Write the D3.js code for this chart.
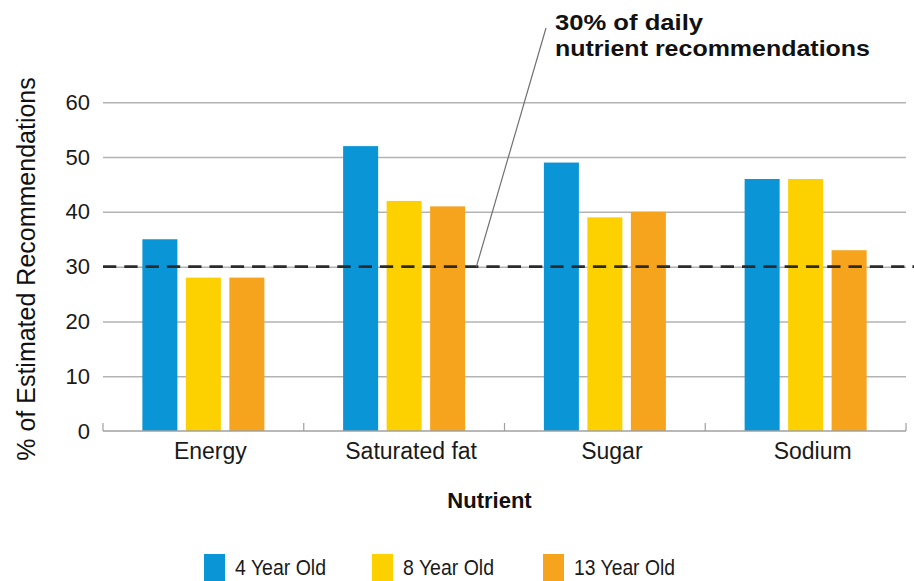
<!DOCTYPE html>
<html>
<head>
<meta charset="utf-8">
<script src="https://cdn.jsdelivr.net/npm/d3@7"></script>
<style>
  html, body { margin: 0; padding: 0; background: #fff; }
  svg { display: block; font-family: "Liberation Sans", Arial, Helvetica, sans-serif; }
</style>
</head>
<body>
<script>
'use strict';

(function() {

  // chart data
  const nutrients = ["Energy", "Saturated fat", "Sugar", "Sodium"];
  const series = ["4 Year Old", "8 Year Old", "13 Year Old"];
  const age4 = [35, 52, 49, 46];
  const age8 = [28, 42, 39, 46];
  const age13 = [28, 41, 40, 33];
  const yTicks = [0, 10, 20, 30, 40, 50, 60];
  const refValue = 30;
  const refLabel = ["30% of daily", "nutrient recommendations"];

  const colors = {
    "4 Year Old": "#0995d6",
    "8 Year Old": "#fdd100",
    "13 Year Old": "#f6a31e"
  };

  const width = 914, height = 581;

  let svgContainer = d3.select('body')
    .append('svg')
    .attr('width', width)
    .attr('height', height);

  // scales
  let x0 = d3.scaleBand()
    .domain(nutrients)
    .range([103, 906])
    .padding(0);

  let x1 = d3.scaleBand()
    .domain(series)
    .range([-61, 61])
    .paddingInner(0.195)
    .paddingOuter(0);

  let yScale = d3.scaleLinear()
    .domain([0, 60])
    .range([431, 102.3]);

  // gridlines + y tick labels
  let yAxis = d3.axisLeft(yScale)
    .tickValues(yTicks)
    .tickSize(-(906 - 103))
    .tickPadding(13);

  let gy = svgContainer.append('g')
    .attr('transform', 'translate(103, 0)')
    .call(yAxis);
  gy.select('.domain').remove();
  gy.selectAll('.tick line')
    .attr('stroke', '#b3b3b3')
    .attr('stroke-width', 1.5)
    .attr('opacity', (d) => d === 0 ? 0 : 1);
  gy.selectAll('.tick text')
    .attr('font-size', '22px')
    .attr('fill', '#1a1a1a')
    .attr('font-family', null);

  // bars
  let rows = nutrients.map((n, i) => ({
    nutrient: n,
    values: [
      {key: series[0], value: age4[i]},
      {key: series[1], value: age8[i]},
      {key: series[2], value: age13[i]}
    ]
  }));

  svgContainer.append('g')
    .selectAll('g')
    .data(rows)
    .enter()
    .append('g')
      .attr('transform', (d) => 'translate(' + (x0(d.nutrient) + x0.bandwidth() / 2) + ',0)')
    .selectAll('rect')
    .data((d) => d.values)
    .enter()
    .append('rect')
      .attr('x', (d) => x1(d.key))
      .attr('y', (d) => yScale(d.value))
      .attr('width', x1.bandwidth())
      .attr('height', (d) => yScale(0) - yScale(d.value))
      .attr('fill', (d) => colors[d.key]);

  // x axis baseline with boundary ticks
  svgContainer.append('line')
    .attr('x1', 103).attr('x2', 906)
    .attr('y1', yScale(0)).attr('y2', yScale(0))
    .attr('stroke', '#a0a0a0')
    .attr('stroke-width', 1.5);

  let bounds = nutrients.map((n) => x0(n)).concat([x0.range()[1]]);
  svgContainer.selectAll('.xtick')
    .data(bounds)
    .enter()
    .append('line')
      .attr('x1', (d) => d).attr('x2', (d) => d)
      .attr('y1', yScale(0) - 8).attr('y2', yScale(0))
      .attr('stroke', '#a0a0a0')
      .attr('stroke-width', 1.2);

  // category labels
  svgContainer.selectAll('.xlabel')
    .data(nutrients)
    .enter()
    .append('text')
      .attr('x', (d) => x0(d) + x0.bandwidth() / 2 + 7)
      .attr('y', 459)
      .attr('text-anchor', 'middle')
      .attr('font-size', '23px')
      .attr('fill', '#1a1a1a')
      .text((d) => d);

  // reference dashed line (over bars)
  svgContainer.append('line')
    .attr('x1', 103).attr('x2', 914)
    .attr('y1', yScale(refValue)).attr('y2', yScale(refValue))
    .attr('stroke', '#2b2b2b')
    .attr('stroke-width', 2.6)
    .attr('stroke-dasharray', '13.3 8');

  // annotation leader + text
  svgContainer.append('line')
    .attr('x1', x0("Saturated fat") + x0.bandwidth() * 0.86)
    .attr('y1', yScale(refValue))
    .attr('x2', 546)
    .attr('y2', 28)
    .attr('stroke', '#707070')
    .attr('stroke-width', 1.2);

  svgContainer.append('text')
    .attr('x', 555)
    .attr('y', 30)
    .attr('font-size', '22px')
    .attr('font-weight', 'bold')
    .attr('fill', '#111')
    .selectAll('tspan')
    .data(refLabel)
    .enter()
    .append('tspan')
      .attr('x', 555)
      .attr('dy', (d, i) => i === 0 ? 0 : 26)
      .attr('textLength', (d, i) => i === 0 ? 148 : 315)
      .attr('lengthAdjust', 'spacingAndGlyphs')
      .text((d) => d);

  // axis titles
  svgContainer.append('text')
    .attr('x', 489.5)
    .attr('y', 508)
    .attr('text-anchor', 'middle')
    .attr('font-size', '22px')
    .attr('font-weight', 'bold')
    .attr('fill', '#111')
    .text('Nutrient');

  svgContainer.append('text')
    .attr('transform', 'translate(35, 269)rotate(-90)')
    .attr('text-anchor', 'middle')
    .attr('font-size', '25px')
    .attr('fill', '#111')
    .text('% of Estimated Recommendations');

  // legend
  let legendX = [204, 372, 543];
  let legendW = [91, 91, 101];
  let legend = svgContainer.selectAll('.legend')
    .data(series)
    .enter()
    .append('g')
      .attr('class', 'legend')
      .attr('transform', (d, i) => 'translate(' + legendX[i] + ',554)');

  legend.append('rect')
    .attr('width', 21)
    .attr('height', 27)
    .attr('fill', (d) => colors[d]);

  legend.append('text')
    .attr('x', 31)
    .attr('y', 21)
    .attr('font-size', '22px')
    .attr('fill', '#1a1a1a')
    .attr('textLength', (d, i) => legendW[i])
    .attr('lengthAdjust', 'spacingAndGlyphs')
    .text((d) => d);

})();
</script>
</body>
</html>
